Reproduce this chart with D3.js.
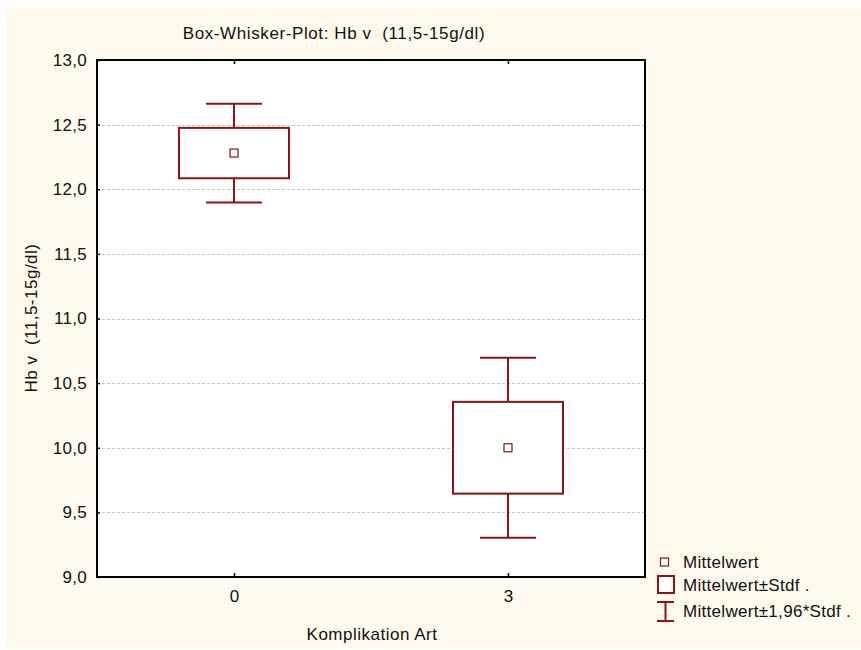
<!DOCTYPE html>
<html>
<head>
<meta charset="utf-8">
<script src="https://cdn.jsdelivr.net/npm/d3@7"></script>
<style>
  html, body { margin: 0; padding: 0; background: #ffffff; }
  svg { display: block; font-family: "Liberation Sans", Arial, sans-serif; }
  text { white-space: pre; }
</style>
</head>
<body>
<svg id="chart" width="861" height="650"></svg>
<script>
// Hb v per complication type: mean and standard deviation
const categories = ["0", "3"];
const means = [12.28, 10.0];
const stdDevs = [0.195, 0.355];
const whiskerFactor = 1.96;
const yTicks = [9.0, 9.5, 10.0, 10.5, 11.0, 11.5, 12.0, 12.5, 13.0];
const legendLabels = ["Mittelwert", "Mittelwert\u00b1Stdf .", "Mittelwert\u00b11,96*Stdf ."];

const titleText = "Box-Whisker-Plot: Hb v  (11,5-15g/dl)";
const yTitle = "Hb v  (11,5-15g/dl)";
const xTitle = "Komplikation Art";

const W = 861, H = 650;
const plot = { left: 97, top: 60, right: 645, bottom: 577 };
const dark = "#8a1414";
const fontSize = 17;

const de = d3.formatLocale({ decimal: ",", thousands: ".", grouping: [3], currency: ["", " €"] });
const fmt = de.format(".1f");

const svg = d3.select("#chart");

// page background
svg.append("rect").attr("x", 6).attr("y", 7).attr("width", W - 6).attr("height", H - 9)
  .attr("fill", "#fff9ee");

const x = d3.scalePoint().domain(categories).range([plot.left, plot.right]).padding(0.5);
const y = d3.scaleLinear().domain([9, 13]).range([plot.bottom, plot.top]);

// plot area
svg.append("rect")
  .attr("x", plot.left).attr("y", plot.top)
  .attr("width", plot.right - plot.left).attr("height", plot.bottom - plot.top)
  .attr("fill", "#ffffff");

// grid lines
svg.append("g").selectAll("line")
  .data(yTicks.filter(t => t > 9 && t < 13))
  .join("line")
  .attr("x1", plot.left).attr("x2", plot.right)
  .attr("y1", d => Math.round(y(d)) + 0.5).attr("y2", d => Math.round(y(d)) + 0.5)
  .attr("stroke", "#c4c4c4").attr("stroke-width", 1).attr("stroke-dasharray", "3,2");

// y axis labels + inward ticks
const yAxis = d3.axisLeft(y).tickValues(yTicks).tickFormat(fmt).tickSize(-3).tickPadding(10);
const gy = svg.append("g").attr("transform", `translate(${plot.left},0)`).call(yAxis);
gy.select(".domain").remove();
gy.selectAll(".tick line").attr("stroke", "#000").attr("stroke-width", 1.5);
gy.selectAll(".tick text").attr("font-size", fontSize).attr("fill", "#111")
  .attr("font-family", "Liberation Sans, Arial, sans-serif").style("letter-spacing", "0.3px");

// x axis labels + inward ticks (bottom and top)
const xAxis = d3.axisBottom(x).tickSize(-4).tickPadding(13);
const gx = svg.append("g").attr("transform", `translate(0,${plot.bottom})`).call(xAxis);
gx.select(".domain").remove();
gx.selectAll(".tick line").attr("stroke", "#000").attr("stroke-width", 1.5);
gx.selectAll(".tick text").attr("font-size", fontSize).attr("fill", "#111")
  .attr("font-family", "Liberation Sans, Arial, sans-serif");

const gxTop = svg.append("g").attr("transform", `translate(0,${plot.top})`)
  .call(d3.axisTop(x).tickSize(-4).tickFormat(""));
gxTop.select(".domain").remove();
gxTop.selectAll(".tick line").attr("stroke", "#000").attr("stroke-width", 1.5);

// plot frame
svg.append("rect")
  .attr("x", plot.left).attr("y", plot.top)
  .attr("width", plot.right - plot.left).attr("height", plot.bottom - plot.top)
  .attr("fill", "none").attr("stroke", "#000").attr("stroke-width", 2);

// boxes, whiskers, means
const stats = categories.map((c, i) => ({
  cat: c,
  mean: means[i],
  lo: means[i] - stdDevs[i],
  hi: means[i] + stdDevs[i],
  wlo: means[i] - whiskerFactor * stdDevs[i],
  whi: means[i] + whiskerFactor * stdDevs[i]
}));

const boxW = 110, capW = 56, markS = 8;
const g = svg.append("g").selectAll("g").data(stats).join("g");

g.append("line")
  .attr("x1", d => x(d.cat)).attr("x2", d => x(d.cat))
  .attr("y1", d => y(d.whi)).attr("y2", d => y(d.hi))
  .attr("stroke", dark).attr("stroke-width", 2);
g.append("line")
  .attr("x1", d => x(d.cat)).attr("x2", d => x(d.cat))
  .attr("y1", d => y(d.lo)).attr("y2", d => y(d.wlo))
  .attr("stroke", dark).attr("stroke-width", 2);
g.append("line")
  .attr("x1", d => x(d.cat) - capW / 2).attr("x2", d => x(d.cat) + capW / 2)
  .attr("y1", d => y(d.whi)).attr("y2", d => y(d.whi))
  .attr("stroke", dark).attr("stroke-width", 2);
g.append("line")
  .attr("x1", d => x(d.cat) - capW / 2).attr("x2", d => x(d.cat) + capW / 2)
  .attr("y1", d => y(d.wlo)).attr("y2", d => y(d.wlo))
  .attr("stroke", dark).attr("stroke-width", 2);
g.append("rect")
  .attr("x", d => x(d.cat) - boxW / 2).attr("y", d => y(d.hi))
  .attr("width", boxW).attr("height", d => y(d.lo) - y(d.hi))
  .attr("fill", "#ffffff").attr("stroke", dark).attr("stroke-width", 2);
g.append("rect")
  .attr("x", d => x(d.cat) - markS / 2).attr("y", d => y(d.mean) - markS / 2)
  .attr("width", markS).attr("height", markS)
  .attr("fill", "#ffffff").attr("stroke", dark).attr("stroke-width", 1.2);

// titles
svg.append("text").attr("x", 334).attr("y", 39).attr("text-anchor", "middle")
  .attr("font-size", fontSize).attr("fill", "#111").style("letter-spacing", "0.6px")
  .text(titleText);
svg.append("text").attr("x", 372).attr("y", 640).attr("text-anchor", "middle")
  .attr("font-size", fontSize).attr("fill", "#111").style("letter-spacing", "0.5px")
  .text(xTitle);
svg.append("text").attr("transform", "translate(37,318) rotate(-90)").attr("text-anchor", "middle")
  .attr("font-size", fontSize).attr("fill", "#111").style("letter-spacing", "0.5px")
  .text(yTitle);

// legend
const lg = svg.append("g").attr("transform", "translate(657,0)");
const rowY = [562, 585, 611];
// mean marker
lg.append("rect").attr("x", 3.5).attr("y", rowY[0] - 4).attr("width", 8).attr("height", 8)
  .attr("fill", "#fff").attr("stroke", dark).attr("stroke-width", 1.2);
// box symbol
lg.append("rect").attr("x", 1).attr("y", rowY[1] - 9).attr("width", 16).attr("height", 17)
  .attr("fill", "#fff").attr("stroke", dark).attr("stroke-width", 2);
// whisker symbol
lg.append("line").attr("x1", 0).attr("x2", 17).attr("y1", rowY[2] - 9).attr("y2", rowY[2] - 9)
  .attr("stroke", dark).attr("stroke-width", 2);
lg.append("line").attr("x1", 0).attr("x2", 17).attr("y1", rowY[2] + 10).attr("y2", rowY[2] + 10)
  .attr("stroke", dark).attr("stroke-width", 2);
lg.append("line").attr("x1", 8.5).attr("x2", 8.5).attr("y1", rowY[2] - 9).attr("y2", rowY[2] + 10)
  .attr("stroke", dark).attr("stroke-width", 2);

lg.selectAll("text.leg").data(legendLabels).join("text")
  .attr("class", "leg")
  .attr("x", 26).attr("y", (d, i) => rowY[i] + 6)
  .attr("font-size", fontSize).attr("fill", "#111").style("letter-spacing", "0.3px")
  .text(d => d);
</script>
</body>
</html>
